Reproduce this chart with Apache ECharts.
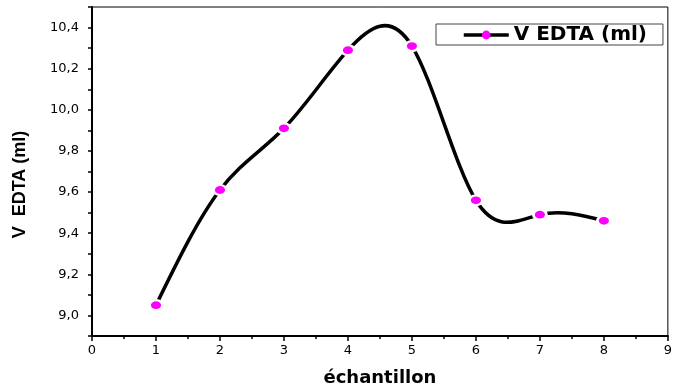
<!DOCTYPE html>
<html>
<head>
<meta charset="utf-8">
<script src="https://cdn.jsdelivr.net/npm/echarts@6/dist/echarts.min.js"></script>
<style>
  html, body { margin: 0; padding: 0; background: #fff; }
  #chart { width: 675px; height: 392px; }
</style>
</head>
<body>
<div id="chart"></div>
<script>
const samples = [1, 2, 3, 4, 5, 6, 7, 8]
const vEdta = [9.05, 9.61, 9.91, 10.29, 10.31, 9.56, 9.49, 9.46]
const seriesName = 'V EDTA (ml)'
const xTitle = 'échantillon'
const yTitle = 'V  EDTA (ml)'

const chart = echarts.init(document.getElementById('chart'))
const font = 'DejaVu Sans, Liberation Sans, sans-serif'

// natural cubic spline slopes at each sample (the curve Origin draws through the points)
function splineSlopes(xs, ys) {
  const n = xs.length
  const h = [], a = [], b = [], c = [], d = []
  for (let i = 0; i < n - 1; i++) h.push(xs[i + 1] - xs[i])
  for (let i = 0; i < n; i++) {
    if (i === 0 || i === n - 1) { a.push(0); b.push(1); c.push(0); d.push(0); continue }
    a.push(h[i - 1]); b.push(2 * (h[i - 1] + h[i])); c.push(h[i])
    d.push(6 * ((ys[i + 1] - ys[i]) / h[i] - (ys[i] - ys[i - 1]) / h[i - 1]))
  }
  for (let i = 1; i < n; i++) {
    const m = a[i] / b[i - 1]
    b[i] -= m * c[i - 1]; d[i] -= m * d[i - 1]
  }
  const M = new Array(n)
  M[n - 1] = d[n - 1] / b[n - 1]
  for (let i = n - 2; i >= 0; i--) M[i] = (d[i] - c[i] * M[i + 1]) / b[i]
  const s = []
  for (let i = 0; i < n; i++) {
    if (i < n - 1) s.push((ys[i + 1] - ys[i]) / h[i] - h[i] * (2 * M[i] + M[i + 1]) / 6)
    else s.push((ys[i] - ys[i - 1]) / h[i - 1] + h[i - 1] * (M[i - 1] + 2 * M[i]) / 6)
  }
  return s
}
const slopes = splineSlopes(samples, vEdta)

function renderSpline(params, api) {
  const p = (x, y) => api.coord([x, y])
  const start = p(samples[0], vEdta[0])
  const cmds = ['M' + start[0] + ',' + start[1]]
  for (let i = 0; i < samples.length - 1; i++) {
    const h = samples[i + 1] - samples[i]
    const c1 = p(samples[i] + h / 3, vEdta[i] + slopes[i] * h / 3)
    const c2 = p(samples[i + 1] - h / 3, vEdta[i + 1] - slopes[i + 1] * h / 3)
    const e = p(samples[i + 1], vEdta[i + 1])
    cmds.push('C' + c1.join(',') + ' ' + c2.join(',') + ' ' + e.join(','))
  }
  return {
    type: 'path',
    shape: { pathData: cmds.join(' ') },
    style: { fill: null, stroke: '#000', lineWidth: 3.5 }
  }
}

chart.setOption({
  animation: false,
  textStyle: { fontFamily: font },
  grid: {
    left: 92, width: 585, top: 7, bottom: 54,
    show: true, borderColor: '#000', borderWidth: 1
  },
  legend: {
    data: [{
      name: seriesName,
      lineStyle: { color: '#000', width: 3.5, opacity: 1 },
      itemStyle: { color: '#ff00ff', borderWidth: 0 }
    }],
    left: 436, top: 24,
    padding: [1, 16, 0, 26],
    borderColor: '#444', borderWidth: 1,
    itemWidth: 45, itemHeight: 11, itemGap: 6,
    textStyle: { fontSize: 20, fontWeight: 'bold', color: '#000', fontFamily: font }
  },
  xAxis: {
    type: 'value', min: 0, max: 9, interval: 1,
    name: xTitle, nameLocation: 'middle', nameGap: 33,
    nameTextStyle: { fontSize: 18, fontWeight: 'bold', color: '#000', fontFamily: font },
    axisLine: { onZero: false, lineStyle: { color: '#000', width: 2 } },
    axisTick: { show: true, length: 5, lineStyle: { color: '#000', width: 1.5 } },
    minorTick: { show: true, splitNumber: 2, length: 3, lineStyle: { color: '#000', width: 1.5 } },
    axisLabel: { color: '#000', fontSize: 13, margin: 8, fontFamily: font },
    splitLine: { show: false }
  },
  yAxis: {
    type: 'value', min: 8.9, max: 10.5, interval: 0.1,
    name: yTitle, nameLocation: 'middle', nameGap: 63, nameRotate: 90,
    nameTextStyle: {
      fontSize: 18, fontWeight: 'bold', color: '#000',
      fontFamily: 'Liberation Sans, Arial, sans-serif', padding: [0, 26, 0, 0]
    },
    axisLine: { onZero: false, lineStyle: { color: '#000', width: 2 } },
    axisTick: { show: true, length: 4, lineStyle: { color: '#000', width: 1.5 } },
    axisLabel: {
      color: '#000', fontSize: 13, margin: 13, fontFamily: font,
      formatter: (v) => {
        const t = Math.round(v * 10)
        if (t % 2 !== 0 || t < 90 || t > 104) return ''
        return (t / 10).toFixed(1).replace('.', ',')
      }
    },
    splitLine: { show: false }
  },
  series: [
    {
      type: 'custom',
      z: 1,
      clip: false,
      silent: true,
      data: [[samples[0], vEdta[0]]],
      renderItem: renderSpline
    },
    {
      name: seriesName,
      type: 'line',
      z: 3,
      data: samples.map((x, i) => [x, vEdta[i]]),
      symbol: 'circle',
      symbolSize: [13, 10],
      lineStyle: { opacity: 0 },
      itemStyle: { color: '#ff00ff', borderColor: '#fff', borderWidth: 2.5 }
    }
  ]
})
</script>
</body>
</html>
